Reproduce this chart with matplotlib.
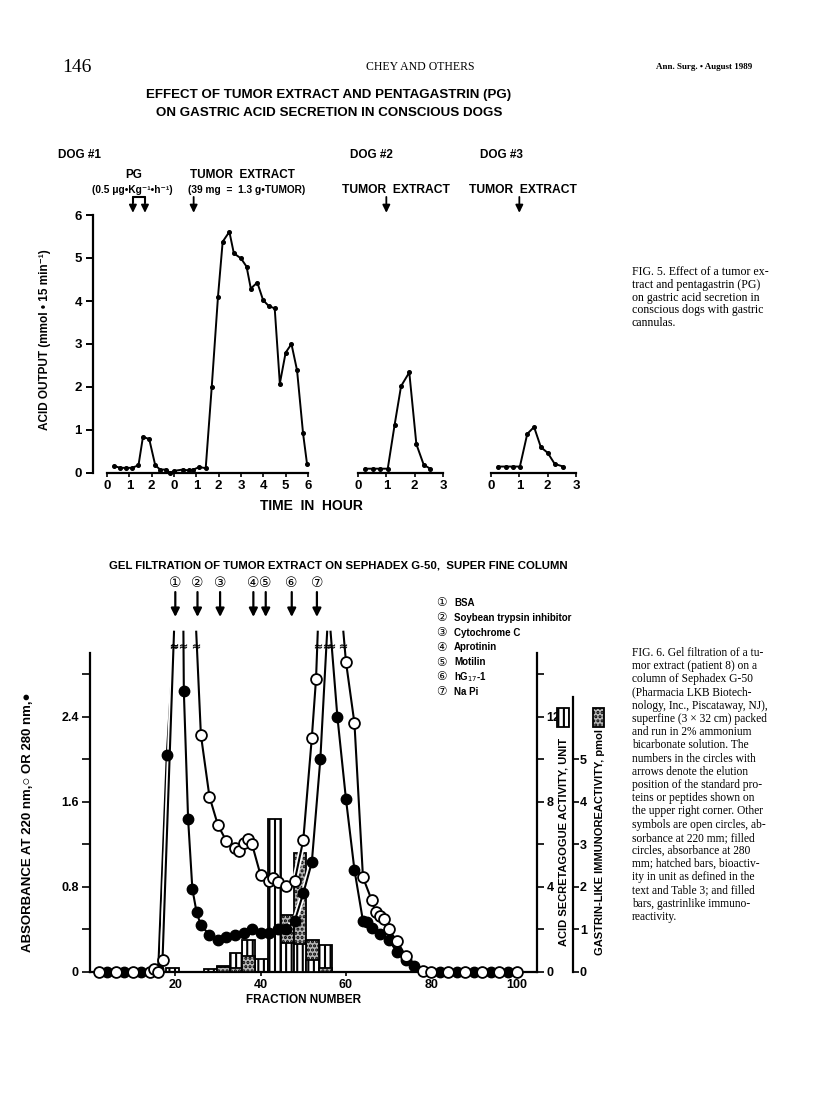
import numpy as np
import matplotlib
matplotlib.use('Agg')
import matplotlib.pyplot as plt
import matplotlib.patheffects as pe
from matplotlib.patches import Rectangle

plt.rcParams['font.family'] = ['Liberation Sans', 'DejaVu Sans', 'Noto Sans CJK JP']
plt.rcParams['hatch.linewidth'] = 1.5

nan = np.nan
OFF = 3.2   # off-scale peak, drawn past the broken top of the axis

# ---------------- Fig. 5 : acid output (mmol / 15 min) ----------------
# dog 1 time axis runs on: 0-2 h (PG period), then 0-6 h (tumor extract)
dog1_hours = [0.33, 0.60, 0.85, 1.12, 1.41, 1.61, 1.89, 2.16, 2.38, 2.65, 2.83, 3.01,
              3.39, 3.65, 3.87, 4.14, 4.42, 4.69, 4.97, 5.18, 5.48, 5.68, 6.00, 6.25,
              6.44, 6.73, 6.99, 7.25, 7.51, 7.74, 8.00, 8.26, 8.51, 8.78, 8.96]
dog1_acid = [0.16, 0.12, 0.12, 0.12, 0.18, 0.84, 0.79, 0.18, 0.08, 0.08, 0.0, 0.05,
             0.08, 0.06, 0.08, 0.14, 0.11, 2.0, 4.1, 5.38, 5.61, 5.11, 4.99, 4.8,
             4.29, 4.43, 4.02, 3.88, 3.83, 2.08, 2.8, 3.0, 2.39, 0.92, 0.2]
dog1_ticks = [0, 1, 2, 3, 4, 5, 6, 7, 8, 9]
dog1_ticklabels = ['0', '1', '2', '0', '1', '2', '3', '4', '5', '6']
pg_hours = [1.16, 1.70]
dog1_tumor_hour = 3.88

dog2_hours = [0.26, 0.52, 0.79, 1.05, 1.29, 1.52, 1.81, 2.06, 2.32, 2.55]
dog2_acid = [0.10, 0.10, 0.10, 0.10, 1.11, 2.02, 2.34, 0.67, 0.19, 0.10]
dog3_hours = [0.26, 0.52, 0.76, 1.02, 1.28, 1.52, 1.76, 2.00, 2.25, 2.55]
dog3_acid = [0.15, 0.15, 0.15, 0.15, 0.91, 1.07, 0.60, 0.47, 0.21, 0.15]
tumor_hour = 1.0

# ---------------- Fig. 6 : gel filtration ----------------
open220_fraction = [2, 6, 10, 14, 15, 16, 17, 19.7, 22, 24.9, 26, 28, 30, 32, 34, 35, 36,
                    37, 38, 40, 42, 43, 44, 46, 48, 50, 52, 53, 53.4, 56, 59.4, 60, 62,
                    64, 66, 67, 68, 69, 70, 72, 74, 78, 80, 84, 88, 92, 96, 100]
open220_abs = [0, 0, 0, 0, 0.03, 0, 0.11, OFF, nan, OFF, 2.23, 1.65, 1.38, 1.23, 1.17,
               1.14, 1.21, 1.25, 1.20, 0.91, 0.86, 0.88, 0.85, 0.81, 0.86, 1.24, 2.20,
               2.76, OFF, nan, OFF, 2.92, 2.34, 0.89, 0.68, 0.56, 0.53, 0.50, 0.40,
               0.29, 0.15, 0.01, 0, 0, 0, 0, 0, 0]
filled280_fraction = [4, 8, 12, 16, 18, 19.8, 21, 21.9, 22, 23, 24, 25, 26, 28, 30, 32,
                      34, 36, 38, 40, 42, 44, 46, 48, 50, 52, 54, 55.6, 56, 56.4, 58, 60,
                      62, 64, 65, 66, 68, 70, 72, 74, 76, 82, 86, 90, 94, 98]
filled280_abs = [0, 0, 0, 0.03, 2.04, OFF, nan, OFF, 2.64, 1.44, 0.78, 0.56, 0.44, 0.35,
                 0.30, 0.33, 0.35, 0.37, 0.40, 0.37, 0.37, 0.40, 0.40, 0.48, 0.74, 1.03,
                 2.00, OFF, nan, OFF, 2.40, 1.63, 0.96, 0.48, 0.47, 0.41, 0.36, 0.30,
                 0.19, 0.11, 0.06, 0, 0, 0, 0, 0]

bar_fraction = [19.25, 28.25, 31.25, 34.25, 37.25, 40.25, 43.25, 46.25, 49.25, 52.25, 55.25]
acid_units = [0.2, 0.15, 0.3, 0.9, 1.5, 0.62, 7.2, 1.35, 1.3, 0.55, 1.27]
gastrin_pmol = [0, 0, 0.12, 0.1, 0.38, 0, 0, 1.33, 2.8, 0.76, 0.1]

standard_fraction = [20.0, 25.2, 30.5, 38.3, 41.2, 47.3, 53.2]
standard_mark = ['①', '②', '③', '④', '⑤', '⑥', '⑦']
standard_name = ['BSA', 'Soybean trypsin inhibitor', 'Cytochrome C', 'Aprotinin',
                 'Motilin', 'hG$_{17}$-1', 'Na Pi']

W, H = 816, 1116
fig = plt.figure(figsize=(W / 100, H / 100), dpi=100)


def fx(x):
    return x / W


def fy(y):
    return 1 - y / H


def rect(l, t, r, b):
    return [fx(l), fy(b), fx(r) - fx(l), fy(t) - fy(b)]


serif = 'Liberation Serif'
tickfont = dict(fontsize=9.5, fontweight='bold')
tickfont2 = dict(fontsize=9, fontweight='bold')

# page header
fig.text(fx(62), fy(67), '146', family=serif, fontsize=14, va='center')
fig.text(fx(420), fy(67), 'CHEY AND OTHERS', family=serif, fontsize=8.5, ha='center', va='center')
fig.text(fx(752), fy(67), 'Ann. Surg. • August 1989', family=serif, fontsize=6.5,
         fontweight='bold', ha='right', va='center')

# ---------------- top figure ----------------
fig.text(fx(329), fy(95), 'EFFECT OF TUMOR EXTRACT AND PENTAGASTRIN (PG)',
         fontsize=9.6, fontweight='bold', ha='center', va='center')
fig.text(fx(329), fy(113), 'ON GASTRIC ACID SECRETION IN CONSCIOUS DOGS',
         fontsize=9.6, fontweight='bold', ha='center', va='center')
fig.text(fx(58), fy(155), 'DOG #1', fontsize=8.5, fontweight='bold', va='center')
fig.text(fx(350), fy(155), 'DOG #2', fontsize=8.5, fontweight='bold', va='center')
fig.text(fx(480), fy(155), 'DOG #3', fontsize=8.5, fontweight='bold', va='center')
fig.text(fx(134), fy(175), 'PG', fontsize=8.5, fontweight='bold', ha='center', va='center')
fig.text(fx(132), fy(190), '(0.5 μg•Kg⁻¹•h⁻¹)', fontsize=7.3, fontweight='bold',
         ha='center', va='center')
fig.text(fx(190), fy(175), 'TUMOR  EXTRACT', fontsize=8.5, fontweight='bold', va='center')
fig.text(fx(188), fy(190), '(39 mg  =  1.3 g•TUMOR)', fontsize=7.3, fontweight='bold',
         va='center')
fig.text(fx(396), fy(190), 'TUMOR  EXTRACT', fontsize=8.7, fontweight='bold',
         ha='center', va='center')
fig.text(fx(523), fy(190), 'TUMOR  EXTRACT', fontsize=8.7, fontweight='bold',
         ha='center', va='center')

ax1 = fig.add_axes(rect(93, 215, 312, 473))
ax2 = fig.add_axes(rect(358, 215, 443, 473))
ax3 = fig.add_axes(rect(491, 215, 576, 473))

for ax, hrs, vals in [(ax1, dog1_hours, dog1_acid), (ax2, dog2_hours, dog2_acid),
                      (ax3, dog3_hours, dog3_acid)]:
    ax.plot(hrs, vals, color='black', lw=1.4, marker='o', ms=2.6, clip_on=False)
    ax.set_ylim(0, 6)
    ax.spines['top'].set_visible(False)
    ax.spines['right'].set_visible(False)
    ax.spines['bottom'].set_linewidth(1.6)
    ax.tick_params(axis='x', length=3, width=1.2, pad=2)
    ax.patch.set_visible(False)

ax1.set_xlim(-0.627, 9.18)
ax1.spines['bottom'].set_bounds(0, 9)
ax1.spines['left'].set_linewidth(1.6)
ax1.set_xticks(dog1_ticks, dog1_ticklabels, **tickfont)
ax1.set_yticks(range(7), [str(i) for i in range(7)], **tickfont)
ax1.tick_params(axis='y', length=5, width=1.4, pad=3)

for ax in (ax2, ax3):
    ax.set_xlim(0, 3)
    ax.spines['left'].set_visible(False)
    ax.set_yticks([])
    ax.set_xticks(range(4), [str(i) for i in range(4)], **tickfont)

arrow = dict(arrowstyle='-|>,head_length=0.45,head_width=0.22', lw=1.3, color='black',
             shrinkA=0, shrinkB=0)
for t in pg_hours:
    ax1.annotate('', xy=(t, 6.05), xytext=(t, 6.42), arrowprops=arrow, annotation_clip=False)
ax1.plot([pg_hours[0], pg_hours[0], pg_hours[1], pg_hours[1]], [6.3, 6.42, 6.42, 6.3],
         color='black', lw=1.5, clip_on=False)
ax1.annotate('', xy=(dog1_tumor_hour, 6.05), xytext=(dog1_tumor_hour, 6.42),
             arrowprops=arrow, annotation_clip=False)
for ax in (ax2, ax3):
    ax.annotate('', xy=(tumor_hour, 6.05), xytext=(tumor_hour, 6.42), arrowprops=arrow,
                annotation_clip=False)

fig.text(fx(45), fy(340), 'ACID OUTPUT (mmol • 15 min⁻¹)', rotation=90, fontsize=8.5,
         fontweight='bold', ha='center', va='center')
fig.text(fx(311), fy(506), 'TIME  IN  HOUR', fontsize=10, fontweight='bold',
         ha='center', va='center')

fig5_caption = ['FIG. 5. Effect of a tumor ex-', 'tract and pentagastrin (PG)',
                'on gastric acid secretion in', 'conscious dogs with gastric',
                'cannulas.']
for i, line in enumerate(fig5_caption):
    fig.text(fx(632), fy(272 + 12.8 * i), line, family=serif, fontsize=8.6, va='center')

# ---------------- bottom figure ----------------
fig.text(fx(338), fy(565), 'GEL FILTRATION OF TUMOR EXTRACT ON SEPHADEX G-50,  SUPER FINE COLUMN',
         fontsize=8.2, fontweight='bold', ha='center', va='center')

ax_bar = fig.add_axes(rect(90, 653, 537, 972))
ax_bar.set_xlim(0, 104.8)
ax_bar.set_ylim(0, 15)
ax_gas = ax_bar.twinx()
ax_gas.set_ylim(0, 7.5)
ax_abs = ax_bar.twinx()
ax_abs.set_ylim(0, 3.0)

gas_face = '#b4b4b4'
g2a = ax_bar.get_ylim()[1] / ax_gas.get_ylim()[1]
acid_bars = ax_bar.bar(bar_fraction, acid_units, width=3, facecolor='white',
                       edgecolor='black', hatch='|||', lw=1.3)
gas_bars = ax_bar.bar(bar_fraction, np.array(gastrin_pmol) * g2a, width=3,
                      facecolor=gas_face, edgecolor='black', hatch='....', lw=1.3)
for a, g in zip(acid_bars, gas_bars):
    if a.get_height() < g.get_height():
        a.set_zorder(3)
        g.set_zorder(2)
    else:
        a.set_zorder(2)
        g.set_zorder(3)
    if g.get_height() == 0:
        g.set_visible(False)

halo = [pe.Stroke(linewidth=4, foreground='white'), pe.Normal()]
ax_abs.plot(filled280_fraction, filled280_abs, color='black', lw=1.5, clip_on=False,
            path_effects=halo, zorder=3)
ax_abs.plot(open220_fraction, open220_abs, color='black', lw=1.5, clip_on=False,
            path_effects=halo, zorder=3)
fv = np.array(filled280_abs)
ff = np.array(filled280_fraction)
mf = fv < 3
ax_abs.plot(ff[mf], fv[mf], 'o', ms=7.5, mfc='black', mec='black', clip_on=False, zorder=4)
ov = np.array(open220_abs)
of = np.array(open220_fraction)
mo = ov < 3
ax_abs.plot(of[mo], ov[mo], 'o', ms=7.8, mfc='white', mec='black', mew=1.3,
            clip_on=False, zorder=5)

# break marks on off-scale peaks
brk = np.concatenate([of[ov == OFF], ff[fv == OFF]])
ax_abs.plot(brk, np.full(len(brk), 3.07), linestyle='none', marker=r'$\approx$', ms=5,
            mew=0.2, color='black', clip_on=False, zorder=6)

# spines
for s in ['top', 'left']:
    ax_bar.spines[s].set_visible(False)
ax_bar.spines['right'].set_linewidth(1.6)
ax_bar.spines['bottom'].set_linewidth(1.6)
ax_bar.yaxis.tick_right()
for s in ['top', 'left', 'bottom']:
    ax_gas.spines[s].set_visible(False)
ax_gas.spines['right'].set_position(('axes', (573 - 90) / 447))
ax_gas.spines['right'].set_bounds(0, 6.47)
ax_gas.spines['right'].set_linewidth(1.6)
for s in ['top', 'right', 'bottom']:
    ax_abs.spines[s].set_visible(False)
ax_abs.spines['left'].set_visible(True)
ax_abs.spines['left'].set_linewidth(1.6)
ax_abs.yaxis.tick_left()

ax_bar.set_xticks([20, 40, 60, 80, 100], ['20', '40', '60', '80', '100'], **tickfont2)
ax_bar.tick_params(axis='x', length=3, width=1.2, pad=2)
ax_bar.set_yticks([0, 4, 8, 12], ['0', '4', '8', '12'], **tickfont2)
ax_bar.set_yticks([2, 6, 10, 14], minor=True)
ax_bar.tick_params(axis='y', which='both', length=5, width=1.2, pad=2)
ax_gas.set_yticks(range(6), [str(i) for i in range(6)], **tickfont2)
ax_gas.tick_params(axis='y', length=4, width=1.2, pad=1)
ax_abs.set_yticks([0, 0.8, 1.6, 2.4], ['0', '0.8', '1.6', '2.4'], **tickfont2)
ax_abs.set_yticks([0.4, 1.2, 2.0, 2.8], minor=True)
ax_abs.tick_params(axis='y', which='both', length=6, width=1.2, pad=2)

# standards markers
trans = ax_abs.get_xaxis_transform()
for f, m in zip(standard_fraction, standard_mark):
    ax_abs.text(f, 1.219, m, transform=trans, fontsize=10, ha='center', va='center',
                family=['DejaVu Sans', 'Noto Sans CJK JP'])
    ax_abs.annotate('', xy=(f, 1.113), xycoords=trans, xytext=(f, 1.191), textcoords=trans,
                    arrowprops=dict(arrowstyle='-|>,head_length=0.5,head_width=0.25',
                                    lw=1.6, color='black', shrinkA=0, shrinkB=0),
                    annotation_clip=False)
for i, (m, name) in enumerate(zip(standard_mark, standard_name)):
    y = 603 + 14.8 * i
    fig.text(fx(441), fy(y), m, fontsize=8.5, ha='center', va='center',
             family=['DejaVu Sans', 'Noto Sans CJK JP'])
    fig.text(fx(454), fy(y), name, fontsize=7, fontweight='bold', va='center')

# bar keys
fig.add_artist(Rectangle((fx(557), fy(727)), fx(12), 19 / H, transform=fig.transFigure,
                         facecolor='white', edgecolor='black', hatch='|||', lw=1.3))
fig.add_artist(Rectangle((fx(593), fy(727)), fx(11), 19 / H, transform=fig.transFigure,
                         facecolor=gas_face, edgecolor='black', hatch='....', lw=1.3))

fig.text(fx(28), fy(822), 'ABSORBANCE AT 220 nm,○ OR 280 nm,●', rotation=90, fontsize=9.5,
         fontweight='bold', ha='center', va='center')
fig.text(fx(563), fy(842), 'ACID SECRETAGOGUE ACTIVITY, UNIT', rotation=90, fontsize=8,
         fontweight='bold', ha='center', va='center')
fig.text(fx(600), fy(842), 'GASTRIN-LIKE IMMUNOREACTIVITY, pmol', rotation=90, fontsize=8,
         fontweight='bold', ha='center', va='center')
fig.text(fx(304), fy(1000), 'FRACTION NUMBER', fontsize=8.5, fontweight='bold',
         ha='center', va='center')

fig6_caption = ['FIG. 6. Gel filtration of a tu-', 'mor extract (patient 8) on a',
                'column of Sephadex G-50', '(Pharmacia LKB Biotech-',
                'nology, Inc., Piscataway, NJ),', 'superfine (3 × 32 cm) packed',
                'and run in 2% ammonium', 'bicarbonate solution. The',
                'numbers in the circles with', 'arrows denote the elution',
                'position of the standard pro-', 'teins or peptides shown on',
                'the upper right corner. Other', 'symbols are open circles, ab-',
                'sorbance at 220 mm; filled', 'circles, absorbance at 280',
                'mm; hatched bars, bioactiv-', 'ity in unit as defined in the',
                'text and Table 3; and filled', 'bars, gastrinlike immuno-',
                'reactivity.']
for i, line in enumerate(fig6_caption):
    fig.text(fx(632), fy(653 + 13.2 * i), line, family=serif, fontsize=8.3, va='center')

fig.savefig('out.png', dpi=100)
